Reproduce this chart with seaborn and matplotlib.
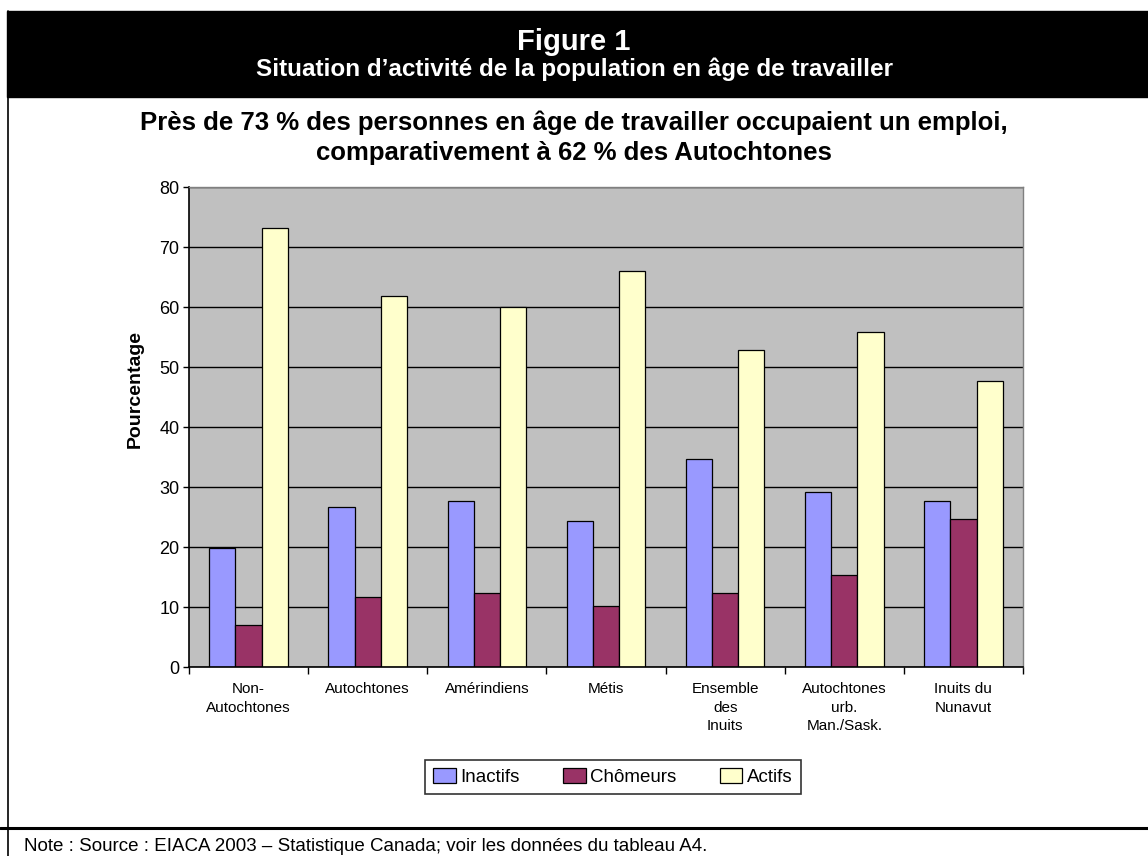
import matplotlib
matplotlib.use("Agg")
import matplotlib.pyplot as plt
from matplotlib.patches import Rectangle, Patch
from matplotlib.lines import Line2D
import pandas as pd
import seaborn as sns

# données
groupes = ["Non-Autochtones", "Autochtones", "Amérindiens", "Métis",
           "Ensemble des Inuits", "Autochtones urb. Man./Sask.", "Inuits du Nunavut"]
etiquettes = ["Non-\nAutochtones", "Autochtones", "Amérindiens", "Métis",
              "Ensemble\ndes\nInuits", "Autochtones\nurb.\nMan./Sask.", "Inuits du\nNunavut"]
series = ["Inactifs", "Chômeurs", "Actifs"]
inactifs = [19.8, 26.6, 27.7, 24.4, 34.6, 29.2, 27.7]
chomeurs = [7.0, 11.6, 12.4, 10.1, 12.4, 15.3, 24.7]
actifs = [73.1, 61.8, 60.0, 66.0, 52.8, 55.8, 47.6]
couleurs = ["#9999FF", "#993366", "#FFFFCC"]

df = pd.DataFrame({
    "groupe": groupes * 3,
    "situation": [s for s in series for _ in groupes],
    "pct": inactifs + chomeurs + actifs,
})

sns.set_style("white")
plt.rcParams["font.family"] = ["Liberation Sans", "DejaVu Sans"]
plt.rcParams["text.color"] = "black"
plt.rcParams["xtick.color"] = "black"
plt.rcParams["ytick.color"] = "black"

W, H = 1148, 856
fig = plt.figure(figsize=(W / 100, H / 100), dpi=100)
ax = fig.add_axes([189 / W, 1 - 667 / H, (1023 - 189) / W, (667 - 187) / H])

sns.barplot(data=df, x="groupe", y="pct", hue="situation", order=groupes,
            hue_order=series, palette=couleurs, saturation=1, width=0.66, gap=0,
            edgecolor="black", linewidth=0.9, ax=ax, legend=False)

ax.set_facecolor("#C0C0C0")
ax.set_ylim(0, 80)
ax.set_xlim(-0.5, 6.5)
ax.set_yticks(range(0, 81, 10))
ax.yaxis.grid(True, color="black", linewidth=1)
ax.set_axisbelow(True)
ax.set_xlabel("")
ax.set_ylabel("")

for s in ["top", "right"]:
    ax.spines[s].set_color("#808080")
    ax.spines[s].set_linewidth(1)
for s in ["left", "bottom"]:
    ax.spines[s].set_color("black")
    ax.spines[s].set_linewidth(1.2)

ax.tick_params(axis="y", direction="out", length=4, width=1, color="black",
               labelsize=13, labelcolor="black", pad=3, left=True)
ax.set_xticks(range(len(groupes)))
ax.set_xticklabels([])
ax.tick_params(axis="x", length=0)
ax.set_xticks([i - 0.5 for i in range(len(groupes) + 1)], minor=True)
ax.tick_params(axis="x", which="minor", direction="out", length=5, width=1,
               color="black", bottom=True)

for i, lab in enumerate(etiquettes):
    ax.text(i, -2.5, lab, ha="center", va="top", fontsize=11,
            linespacing=1.42, color="black")

# bandeau de titre
fig.patches.append(Rectangle((7 / W, 1 - 97 / H), 1 - 7 / W, 86 / H,
                             transform=fig.transFigure, color="black", zorder=0))
fig.text(0.5, 1 - 50 / H, "Figure 1", color="white", fontsize=21,
         fontweight="bold", ha="center", va="baseline")
fig.text(0.5, 1 - 76 / H, "Situation d’activité de la population en âge de travailler",
         color="white", fontsize=17.5, fontweight="bold", ha="center", va="baseline")

fig.text(0.5, 1 - 130 / H,
         "Près de 73 % des personnes en âge de travailler occupaient un emploi,",
         fontsize=18.5, fontweight="bold", ha="center", va="baseline")
fig.text(0.5, 1 - 160 / H, "comparativement à 62 % des Autochtones",
         fontsize=18.5, fontweight="bold", ha="center", va="baseline")

fig.text(135 / W, 1 - 389 / H, "Pourcentage", rotation=90, fontsize=14,
         fontweight="bold", ha="center", va="center")

# légende
handles = [Patch(facecolor=c, edgecolor="black", linewidth=0.9) for c in couleurs]
leg = fig.legend(handles, series, loc="center", ncol=3,
                 bbox_to_anchor=(613 / W, 1 - 777 / H), fontsize=13.5,
                 frameon=True, fancybox=False, shadow=False,
                 handlelength=1.2, handleheight=0.8, handletextpad=0.25,
                 columnspacing=2.3, borderpad=0.45)
leg.get_frame().set_edgecolor("black")
leg.get_frame().set_linewidth(1.2)

# cadre
fig.add_artist(Line2D([8 / W, 8 / W], [0, 1 - 11 / H], color="black",
                      linewidth=1.2, transform=fig.transFigure))
fig.add_artist(Line2D([0, 1], [1 - 828 / H, 1 - 828 / H], color="black",
                      linewidth=2.2, transform=fig.transFigure))

fig.text(24 / W, 1 - 851 / H,
         "Note : Source : EIACA 2003 – Statistique Canada; voir les données du tableau A4.",
         fontsize=13.5, ha="left", va="baseline")

fig.savefig("out.png", dpi=100, facecolor="white")
